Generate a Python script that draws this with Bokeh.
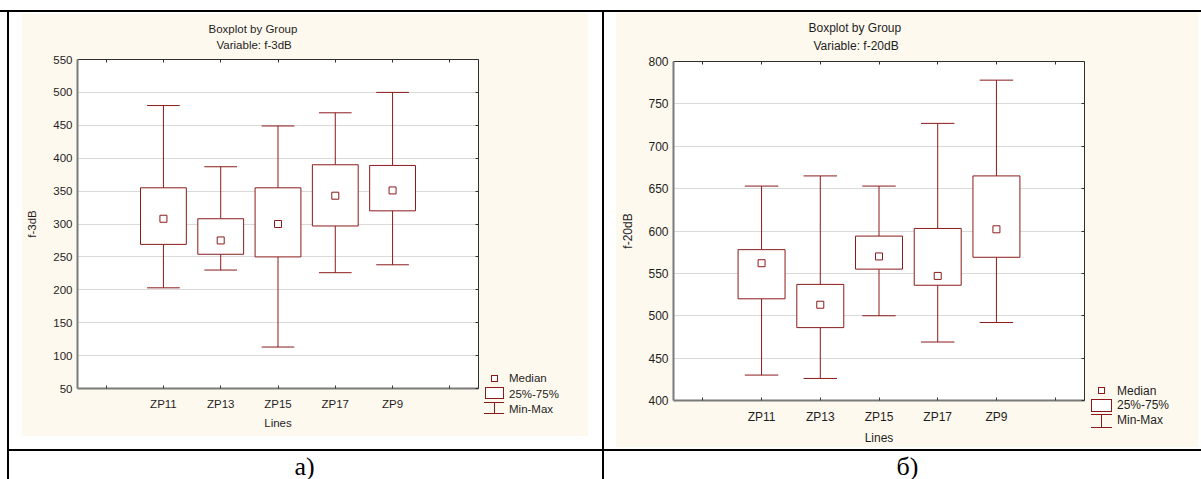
from bokeh.plotting import figure
from bokeh.models import (Range1d, LinearAxis, FixedTicker, ColumnDataSource,
                          Grid, Title, Div, Spacer)
from bokeh.layouts import row, column
from bokeh.embed import file_html
from bokeh.resources import INLINE

# ---------------- data ----------------
categories = ["ZP11", "ZP13", "ZP15", "ZP17", "ZP9"]
x_ticks = [1, 2, 3, 4, 5, 6, 7]

f3db_min = [203, 230, 113, 226, 238]
f3db_q1 = [269, 254, 250, 297, 320]
f3db_median = [308, 275, 300, 343, 351]
f3db_q3 = [355, 308, 355, 390, 389]
f3db_max = [480, 387, 449, 469, 500]
f3db_ticks = [50, 100, 150, 200, 250, 300, 350, 400, 450, 500, 550]

f20db_min = [430, 426, 500, 469, 492]
f20db_q1 = [520, 486, 555, 536, 569]
f20db_median = [562, 513, 570, 547, 602]
f20db_q3 = [578, 537, 594, 603, 665]
f20db_max = [653, 665, 653, 727, 778]
f20db_ticks = [400, 450, 500, 550, 600, 650, 700, 750, 800]

legend_labels = ["Median", "25%-75%", "Min-Max"]
titles = ["Boxplot by Group", "Variable: f-3dB", "Variable: f-20dB"]
captions = ["а)", "б)"]

# ---------------- style ----------------
RED = "#8b1a1a"
CREAM = "#fef9ee"
TEXT = "#1e1e1e"
FONT = "Liberation Sans"
SERIF = "Liberation Serif"
BOX_W = 0.8
CAP_HALF = 0.285


def panel(width, height, margin, frame, yr, yticks, ylabel, variable,
          mins, q1s, meds, q3s, maxs, title_offsets, fs, ylab_standoff):
    fl, ft, fr, fb = frame
    p = figure(width=width, height=height, output_backend="svg",
               toolbar_location=None, margin=margin,
               x_range=Range1d(0.5, 7.5), y_range=Range1d(*yr),
               x_axis_type=None, y_axis_type=None,
               min_border_left=fl, min_border_right=width - fr,
               min_border_top=ft, min_border_bottom=height - fb)
    p.border_fill_color = CREAM
    p.background_fill_color = "white"
    p.outline_line_color = None

    p.add_layout(Grid(dimension=1, ticker=FixedTicker(ticks=yticks),
                      grid_line_color="#b4b4b4", grid_line_dash="1 1",
                      grid_line_width=1))

    blank_y = {t: "" for t in yticks}
    blank_x = {t: "" for t in x_ticks}
    xlabels = {}
    for i, t in enumerate(x_ticks):
        xlabels[t] = categories[i - 1] if 1 <= i <= len(categories) else ""

    common = dict(major_label_text_font=FONT, major_label_text_font_size=fs,
                  major_label_text_color=TEXT,
                  axis_label_text_font=FONT, axis_label_text_font_size=fs,
                  axis_label_text_font_style="normal",
                  axis_label_text_color=TEXT,
                  minor_tick_line_color=None)

    left = LinearAxis(ticker=FixedTicker(ticks=yticks), axis_label=ylabel,
                      axis_line_color="#7a7a7a", axis_line_width=2,
                      major_tick_in=0, major_tick_out=0,
                      major_label_standoff=5, axis_label_standoff=ylab_standoff, **common)
    p.add_layout(left, "left")

    bottom = LinearAxis(ticker=FixedTicker(ticks=x_ticks), axis_label="Lines",
                        major_label_overrides=xlabels,
                        axis_line_color="#7a7a7a", axis_line_width=2,
                        major_tick_in=3, major_tick_out=0,
                        major_tick_line_color="#3a3a3a",
                        major_label_standoff=9, axis_label_standoff=4, **common)
    p.add_layout(bottom, "below")

    edge_common = dict(common)
    edge_common["major_label_text_font_size"] = "0px"
    top = LinearAxis(ticker=FixedTicker(ticks=x_ticks),
                     major_label_overrides=blank_x,
                     axis_line_color="#303030", axis_line_width=1,
                     major_tick_in=3, major_tick_out=0,
                     major_tick_line_color="#303030",
                     major_label_standoff=0, **edge_common)
    p.add_layout(top, "above")

    right = LinearAxis(ticker=FixedTicker(ticks=yticks),
                       major_label_overrides=blank_y,
                       axis_line_color="#303030", axis_line_width=1,
                       major_tick_in=3, major_tick_out=0,
                       major_tick_line_color="#303030",
                       major_label_standoff=0, **edge_common)
    p.add_layout(right, "right")

    # small gap between the frame and the two title lines
    p.add_layout(Title(text=" ", text_font_size="6px", standoff=0), "above")
    # titles (nearest to the frame first)
    tstyle = dict(align="left", standoff=2, text_font=FONT, text_font_size=fs,
                  text_font_style="normal", text_color=TEXT)
    p.add_layout(Title(text=variable, offset=title_offsets[1], **tstyle), "above")
    p.add_layout(Title(text=titles[0], offset=title_offsets[0], **tstyle), "above")

    # data glyphs
    pos = x_ticks[1:1 + len(categories)]
    src = ColumnDataSource(dict(
        x=pos, cl=[v - CAP_HALF for v in pos], cr=[v + CAP_HALF for v in pos],
        mn=mins, q1=q1s, med=meds, q3=q3s, mx=maxs))
    p.segment(x0="x", y0="q3", x1="x", y1="mx", source=src, line_color=RED, line_width=1)
    p.segment(x0="x", y0="q1", x1="x", y1="mn", source=src, line_color=RED, line_width=1)
    p.segment(x0="cl", y0="mx", x1="cr", y1="mx", source=src, line_color=RED, line_width=1)
    p.segment(x0="cl", y0="mn", x1="cr", y1="mn", source=src, line_color=RED, line_width=1)
    p.vbar(x="x", width=BOX_W, bottom="q1", top="q3", source=src,
           fill_color="white", line_color=RED, line_width=1)
    p.scatter(x="x", y="med", source=src, marker="square", size=7,
              fill_color="white", line_color=RED, line_width=1)
    return p


def legend_div(width, height, margin, fs, sq, box, tee, text_x, text_tops):
    def absdiv(l, t, w, h, extra):
        return ('<div style="position:absolute;left:%spx;top:%spx;width:%spx;'
                'height:%spx;box-sizing:content-box;%s"></div>' % (l, t, w, h, extra))
    parts = []
    parts.append(absdiv(sq[0], sq[1], 5, 5,
                        "border:1px solid %s;background:white;" % RED))
    parts.append(absdiv(box[0], box[1], box[2], box[3],
                        "border:1px solid %s;background:white;" % RED))
    tl, tt, tw, th = tee
    parts.append(absdiv(tl, tt, tw, 1, "background:%s;" % RED))
    parts.append(absdiv(tl + tw // 2, tt + 1, 1, th - 1, "background:%s;" % RED))
    parts.append(absdiv(tl, tt + th, tw, 1, "background:%s;" % RED))
    for lab, top in zip(legend_labels, text_tops):
        parts.append('<div style="position:absolute;left:%spx;top:%spx;'
                     'line-height:15px;white-space:nowrap;">%s</div>'
                     % (text_x, top, lab))
    html = ('<div style="position:relative;width:%dpx;height:%dpx;'
            'font-family:\'%s\';font-size:%s;color:%s;">%s</div>'
            % (width, height, FONT, fs, TEXT, "".join(parts)))
    return Div(text=html, width=width, height=height, margin=margin,
               styles={"background-color": CREAM})


def caption_div(width, text, shift):
    html = ('<div style="position:relative;left:%dpx;">%s</div>' % (shift, text))
    return Div(text=html, width=width, height=28, margin=0,
               styles={"font-family": SERIF, "font-size": "26px",
                       "line-height": "32px", "text-align": "center",
                       "color": "black", "width": "%dpx" % width})


def black(w, h):
    return Div(text="", width=w, height=h, margin=0,
               styles={"background-color": "black"})


p1 = panel(460, 423, (1, 0, 13, 12), (56, 46, 457, 375), (50, 550), f3db_ticks,
           "f-3dB", titles[1], f3db_min, f3db_q1, f3db_median, f3db_q3, f3db_max,
           (131, 139), "11.5px", 12)
leg1 = legend_div(107, 423, (1, 14, 13, 0), "11.5px",
                  (10, 362), (4, 374, 17, 10), (3, 389, 20, 11), 28,
                  (358, 373.5, 388.5))

p2 = panel(472, 435, (0, 0, 2, 11), (58, 49, 469, 388), (400, 800), f20db_ticks,
           "f-20dB", titles[2], f20db_min, f20db_q1, f20db_median, f20db_q3, f20db_max,
           (135, 140), "12px", 10)
leg2 = legend_div(111, 435, (0, 3, 2, 0), "12px",
                  (11, 375), (4, 387, 19, 11), (4, 402, 21, 13), 30,
                  (371.5, 386, 401))

cap1 = caption_div(593, captions[0], -1)
cap2 = caption_div(597, captions[1], 5)

left_col = column(row(p1, leg1, spacing=0), black(593, 2), cap1, spacing=0)
right_col = column(row(p2, leg2, spacing=0), black(597, 2), cap2, spacing=0)

body = row(Spacer(width=7, height=467, margin=0), black(2, 467), left_col,
           black(2, 467), right_col, spacing=0)
layout = column(Spacer(width=1201, height=10, margin=0), black(1201, 2), body, spacing=0)

open("out.html", "w").write(file_html(layout, INLINE))
